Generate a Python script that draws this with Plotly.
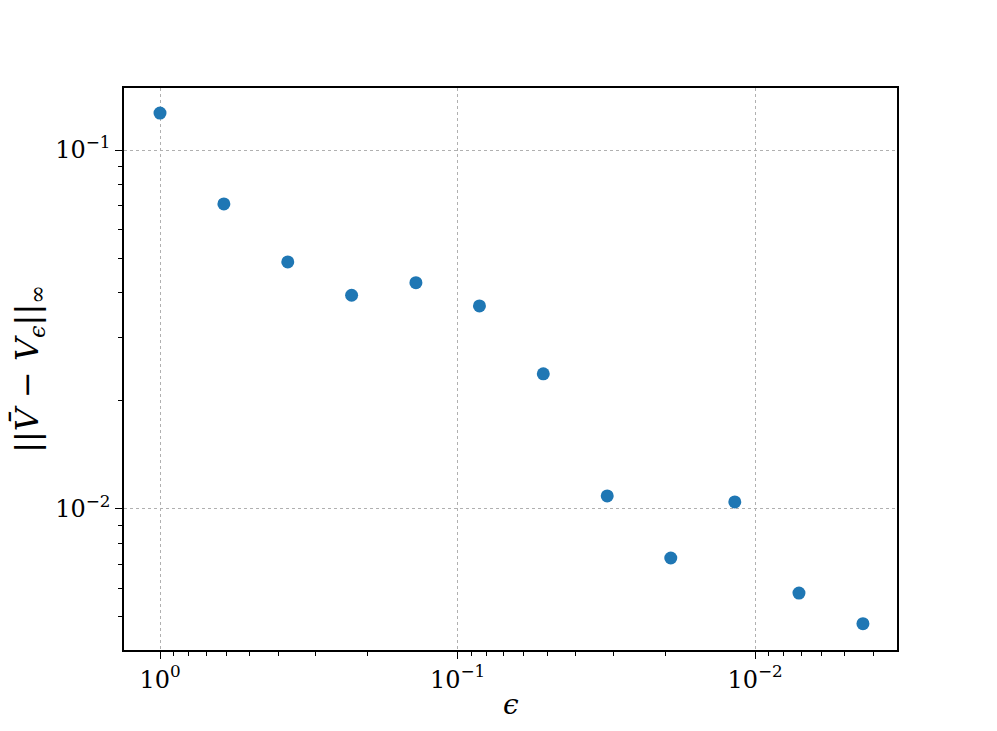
import plotly.graph_objects as go

eps = [1.0, 0.610, 0.372, 0.227, 0.138, 0.0844, 0.0515, 0.0314, 0.0192, 0.0117, 0.00712, 0.00434]
err = [0.1268, 0.0708, 0.0488, 0.0394, 0.0427, 0.0368, 0.0238, 0.01087, 0.0073, 0.01046, 0.00583, 0.00479]

x_ticks = [1, 0.1, 0.01]
x_labels = ["10<sup>0</sup>", "10<sup>−1</sup>", "10<sup>−2</sup>"]
y_ticks = [0.1, 0.01]
y_labels = ["10<sup>−1</sup>", "10<sup>−2</sup>"]
x_minor = [0.004, 0.005, 0.006, 0.007, 0.008, 0.009,
           0.02, 0.03, 0.04, 0.05, 0.06, 0.07, 0.08, 0.09,
           0.2, 0.3, 0.4, 0.5, 0.6, 0.7, 0.8, 0.9]
y_minor = [0.005, 0.006, 0.007, 0.008, 0.009,
           0.02, 0.03, 0.04, 0.05, 0.06, 0.07, 0.08, 0.09]
x_title = "<i>ϵ</i>"
y_title = "||<i>V̄</i> − <i>V</i><sub><i>ϵ</i></sub>||<sub>∞</sub>"

FONT = "DejaVu Serif"

fig = go.Figure(go.Scatter(
    x=eps, y=err, mode="markers",
    marker=dict(color="#1f77b4", size=13),
))

axis_common = dict(
    type="log", showline=True, linecolor="black", linewidth=1.5, mirror=True,
    ticks="outside", ticklen=7, tickwidth=1.3, tickcolor="black",
    showgrid=True, gridcolor="#b0b0b0", griddash="dot", gridwidth=1,
    zeroline=False, automargin=False,
    tickfont=dict(family=FONT, size=24, color="black"),
)

fig.update_layout(
    width=981, height=715,
    margin=dict(l=116, r=92, t=80, b=73),
    paper_bgcolor="white", plot_bgcolor="white",
    showlegend=False,
    xaxis=dict(axis_common, range=[0.121, -2.477], tickvals=x_ticks, ticktext=x_labels,
               minor=dict(tickvals=x_minor, ticks="outside", ticklen=4, tickwidth=1, tickcolor="black", showgrid=False)),
    yaxis=dict(axis_common, range=[-2.393, -0.827], tickvals=y_ticks, ticktext=y_labels,
               minor=dict(tickvals=y_minor, ticks="outside", ticklen=4, tickwidth=1, tickcolor="black", showgrid=False),
               title=dict(text=y_title, font=dict(family=FONT, size=32, color="black"))),
    annotations=[dict(text=x_title, xref="paper", yref="paper", x=0.5, y=-0.097,
                      xanchor="center", yanchor="middle", showarrow=False,
                      font=dict(family=FONT, size=28, color="black"))],
)

fig.write_html("out.html")
